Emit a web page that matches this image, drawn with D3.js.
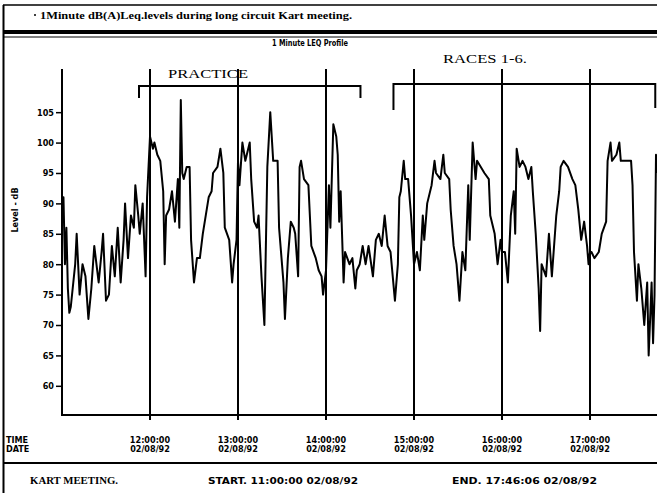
<!DOCTYPE html>
<html>
<head>
<meta charset="utf-8">
<script src="https://cdn.jsdelivr.net/npm/d3@7"></script>
<style>
  body { margin: 0; background: #fff; }
  svg { display: block; }
  .lbl { font-family: "Liberation Sans Narrow", "DejaVu Sans Condensed", "Liberation Sans", sans-serif; font-weight: bold; fill: #000; }
  .serif { font-family: "Liberation Serif", "DejaVu Serif", serif; fill: #000; }
</style>
</head>
<body>
<div id="chart"></div>
<script>
// 1 minute LEQ, minutes after 11:00:00 on 02/08/92
const minutes = [0,1,2,3,4,5,6,9,10,12,14,16,18,20,22,24,25,27,28,30,32,34,36,38,40,42,43,45,47,49,50,52,53,55,57,58,
  60,62,63,65,67,69,70,71,73,75,77,79,80,81,82,83,85,87,88,90,92,94,96,98,100,102,103,106,108,110,111,114,116,117,119,
  120,121,123,125,128,129,131,133,134,136,138,140,142,144,147,148,151,152,154,156,158,159,161,162,163,165,168,170,173,175,177,178,
  180,182,183,185,187,188,189,190,192,193,196,198,200,201,203,205,207,209,212,214,216,218,220,222,224,227,229,230,231,233,234,236,238,
  240,242,244,246,247,249,252,254,255,258,260,261,264,265,267,269,271,273,275,277,278,280,282,283,288,291,292,295,297,299,
  300,302,304,306,308,309,310,312,314,316,318,320,321,323,325,326,327,330,332,334,337,339,340,342,345,348,350,352,354,356,358,359,
  360,361,363,366,368,371,372,374,375,378,380,381,384,388,389,390,392,393,395,397,399,400,402,403,404,405,406];
const levels = [88,91,80,86,76,72,73,80,85,75,80,78,71,76,83,79,77,82,85,74,75,83,78,86,77,84,90,81,88,86,93,88,85,90,78,91,
  101,99,100,98,97,92,80,88,89,92,87,94,86,107,95,94,96,96,84,77,81,81,85,88,91,92,95,96,99,95,86,84,77,80,84,
  97,93,100,97,100,94,87,86,88,78,70,96,105,97,97,86,77,71,81,87,86,85,78,96,97,94,93,83,81,79,78,75,
  79,93,86,103,101,98,87,92,77,82,80,81,76,79,80,83,80,83,78,84,85,83,88,83,82,74,80,91,92,97,94,94,88,
  80,82,79,88,84,90,93,97,95,94,98,95,94,89,83,80,74,82,79,93,84,100,94,97,95,94,88,85,80,84,
  82,82,77,88,92,85,99,96,97,96,94,96,92,85,76,69,80,78,85,78,88,92,96,97,96,94,93,89,84,87,83,80,
  82,82,81,82,85,87,97,100,97,98,100,97,97,97,93,82,74,80,76,70,77,65,77,67,75,98,95];

const yTicks = [60, 65, 70, 75, 80, 85, 90, 95, 100, 105];
const hourTicks = [12, 13, 14, 15, 16, 17, 18];

const width = 657, height = 493;
const start = new Date(1992, 7, 2, 11, 0, 0);
const atMinute = m => new Date(start.getTime() + m * 60000);
const atHour = h => new Date(1992, 7, 2, h, 0, 0);

const svg = d3.select("#chart").append("svg")
  .attr("width", width)
  .attr("height", height);

const x = d3.scaleTime()
  .domain([start, atHour(18)])
  .range([62, 678]);

const y = d3.scaleLinear()
  .domain([55.2, 112.1])
  .range([415, 69]);

// frame
svg.append("line").attr("x1", 3).attr("x2", width).attr("y1", 5).attr("y2", 5)
  .attr("stroke", "#000").attr("stroke-width", 1.5);
svg.append("line").attr("x1", 3.5).attr("x2", 3.5).attr("y1", 5).attr("y2", height)
  .attr("stroke", "#000").attr("stroke-width", 2);
svg.append("line").attr("x1", 3).attr("x2", width).attr("y1", 32).attr("y2", 32)
  .attr("stroke", "#000").attr("stroke-width", 4);
svg.append("line").attr("x1", 3).attr("x2", width).attr("y1", 37).attr("y2", 37)
  .attr("stroke", "#000").attr("stroke-width", 1);
svg.append("line").attr("x1", 3).attr("x2", width).attr("y1", 463).attr("y2", 463)
  .attr("stroke", "#000").attr("stroke-width", 2);

// titles
svg.append("circle").attr("cx", 35).attr("cy", 15).attr("r", 1).attr("fill", "#000");
svg.append("text").attr("class", "serif")
  .attr("x", 40).attr("y", 19)
  .attr("font-size", "11px").attr("font-weight", "bold")
  .attr("textLength", 312).attr("lengthAdjust", "spacingAndGlyphs")
  .text("1Minute dB(A)Leq.levels during long circuit Kart meeting.");

svg.append("text").attr("class", "lbl")
  .attr("x", 310).attr("y", 46)
  .attr("text-anchor", "middle")
  .attr("font-size", "9px")
  .attr("textLength", 76).attr("lengthAdjust", "spacingAndGlyphs")
  .text("1 Minute LEQ Profile");

// gridlines at each hour
svg.append("g").selectAll("line")
  .data(hourTicks)
  .join("line")
  .attr("x1", d => x(atHour(d)))
  .attr("x2", d => x(atHour(d)))
  .attr("y1", 69)
  .attr("y2", 420)
  .attr("stroke", "#000")
  .attr("stroke-width", 2);

// axes lines
svg.append("line").attr("x1", 62).attr("x2", 62).attr("y1", 69).attr("y2", 416)
  .attr("stroke", "#000").attr("stroke-width", 2);
svg.append("line").attr("x1", 61).attr("x2", width).attr("y1", 415).attr("y2", 415)
  .attr("stroke", "#000").attr("stroke-width", 2);

const yAxis = svg.append("g")
  .attr("transform", "translate(62,0)")
  .call(d3.axisLeft(y).tickValues(yTicks).tickSize(6).tickPadding(2));
yAxis.select(".domain").remove();
yAxis.selectAll(".tick line").attr("stroke", "#000").attr("stroke-width", 1.5);
yAxis.selectAll(".tick text")
  .attr("class", "lbl")
  .attr("font-size", "9px")
  .attr("fill", "#000");

svg.append("text").attr("class", "lbl")
  .attr("transform", "translate(18,210) rotate(-90)")
  .attr("text-anchor", "middle")
  .attr("font-size", "9px")
  .text("Level - dB");

// x labels
const fmtTime = d3.timeFormat("%H:%M:%S");
const fmtDate = d3.timeFormat("%d/%m/%y");
const xl = svg.append("g").selectAll("text")
  .data(hourTicks)
  .join("text")
  .attr("class", "lbl")
  .attr("font-size", "9px")
  .attr("text-anchor", "middle");
xl.append("tspan")
  .attr("x", d => x(atHour(d)))
  .attr("y", 443)
  .text(d => fmtTime(atHour(d)));
xl.append("tspan")
  .attr("x", d => x(atHour(d)))
  .attr("y", 452)
  .text(d => fmtDate(atHour(d)));

svg.append("text").attr("class", "lbl").attr("font-size", "9px")
  .attr("x", 6).attr("y", 443).text("TIME");
svg.append("text").attr("class", "lbl").attr("font-size", "9px")
  .attr("x", 6).attr("y", 452).text("DATE");

// brackets
const bracket = (x0, x1, yTop, yL, yR) =>
  svg.append("path")
    .attr("d", `M${x0},${yL} V${yTop} H${x1} V${yR}`)
    .attr("fill", "none")
    .attr("stroke", "#000")
    .attr("stroke-width", 2);
bracket(x(atMinute(52.5)), x(atMinute(203.5)), 86, 98, 98);
bracket(x(atMinute(226)), x(atMinute(404.5)), 84, 110, 108);

svg.append("text").attr("class", "serif")
  .attr("x", 168).attr("y", 78).attr("font-size", "13px")
  .attr("textLength", 80).attr("lengthAdjust", "spacingAndGlyphs")
  .text("PRACTICE");
svg.append("text").attr("class", "serif")
  .attr("x", 443).attr("y", 63).attr("font-size", "13px")
  .attr("textLength", 84).attr("lengthAdjust", "spacingAndGlyphs")
  .text("RACES 1-6.");

// data line
const line = d3.line()
  .x((d, i) => x(atMinute(minutes[i])))
  .y(d => y(d));
svg.append("path")
  .datum(levels)
  .attr("d", line)
  .attr("fill", "none")
  .attr("stroke", "#000")
  .attr("stroke-width", 2)
  .attr("stroke-linejoin", "round");

// footer
svg.append("text").attr("class", "serif").attr("font-size", "11px").attr("font-weight", "bold")
  .attr("x", 30).attr("y", 484)
  .attr("textLength", 88).attr("lengthAdjust", "spacingAndGlyphs")
  .text("KART MEETING.");
svg.append("text").attr("class", "lbl").attr("font-size", "9px")
  .attr("x", 208).attr("y", 484)
  .attr("textLength", 150).attr("lengthAdjust", "spacingAndGlyphs")
  .text("START. 11:00:00 02/08/92");
svg.append("text").attr("class", "lbl").attr("font-size", "9px")
  .attr("x", 452).attr("y", 484)
  .attr("textLength", 145).attr("lengthAdjust", "spacingAndGlyphs")
  .text("END. 17:46:06 02/08/92");
</script>
</body>
</html>
